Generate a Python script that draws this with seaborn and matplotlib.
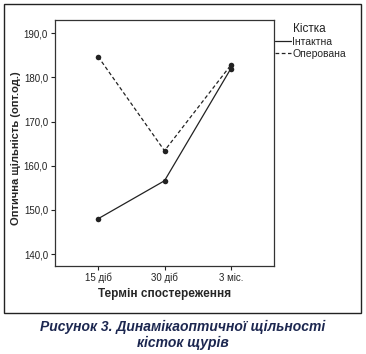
import pandas as pd
import numpy as np
import seaborn as sns
import matplotlib.pyplot as plt
from matplotlib.lines import Line2D
from matplotlib.patches import Rectangle

terms = ['15 діб', '30 діб', '3 міс.']
intact = [148.0, 156.6, 182.0]
operated = [184.7, 163.4, 182.8]
groups = ['Інтактна', 'Оперована']

df = pd.DataFrame({
    'term': terms * 2,
    'value': intact + operated,
    'group': [groups[0]] * 3 + [groups[1]] * 3,
})

sns.set_style('ticks')
plt.rcParams['font.family'] = ['Liberation Sans', 'DejaVu Sans']

fig = plt.figure(figsize=(3.66, 3.54), dpi=100)
ax = fig.add_axes([55 / 366, 1 - 266 / 354, 219 / 366, 246 / 354])

sns.lineplot(data=df, x='term', y='value', style='group', color='#222222',
             marker='o', markersize=4, markeredgewidth=0, linewidth=0.9,
             dashes={groups[0]: '', groups[1]: (3, 2)}, sort=False, ax=ax, legend=False)

ax.set_xlim(-0.65, 2.65)
ax.set_ylim(137.3, 193.0)
ax.set_yticks([140, 150, 160, 170, 180, 190])
ax.set_yticklabels([f'{v},0' for v in [140, 150, 160, 170, 180, 190]])
ax.tick_params(labelsize=7, length=3, width=0.8, colors='#222222', pad=2)
for s in ax.spines.values():
    s.set_visible(True)
    s.set_linewidth(0.9)
    s.set_color('#333333')
ax.set_xlabel('Термін спостереження', fontsize=8.5, fontweight='bold', labelpad=3)
ax.set_ylabel('Оптична щільність (опт.од.)', fontsize=8, fontweight='bold')
ax.yaxis.set_label_coords(-(55 - 21) / 219, 0.48)

handles = [Line2D([], [], color='#222222', lw=0.9, linestyle='-'),
           Line2D([], [], color='#222222', lw=0.9, linestyle=(0, (3, 2)))]
fig.legend(handles, groups, loc='upper left',
           bbox_to_anchor=(275 / 366, 1 - 37 / 354), frameon=False,
           fontsize=7.5, handlelength=1.5, handletextpad=0.15,
           labelspacing=0.2, borderaxespad=0, borderpad=0)
fig.text(293 / 366, 1 - 29 / 354, 'Кістка', ha='left', va='center', fontsize=8.5, color='#222222')

fig.add_artist(Rectangle((4 / 366, 1 - 313 / 354), 357 / 366, 309 / 354,
                         transform=fig.transFigure, fill=False, edgecolor='#222222', lw=1.0))

fig.text(0.5, 1 - 327 / 354, 'Рисунок 3. Динамікаоптичної щільності', ha='center', va='center',
         fontsize=10, fontweight='bold', style='italic', color='#1c2750')
fig.text(0.5, 1 - 343 / 354, 'кісток щурів', ha='center', va='center',
         fontsize=10, fontweight='bold', style='italic', color='#1c2750')

fig.savefig('out.png', dpi=100)
